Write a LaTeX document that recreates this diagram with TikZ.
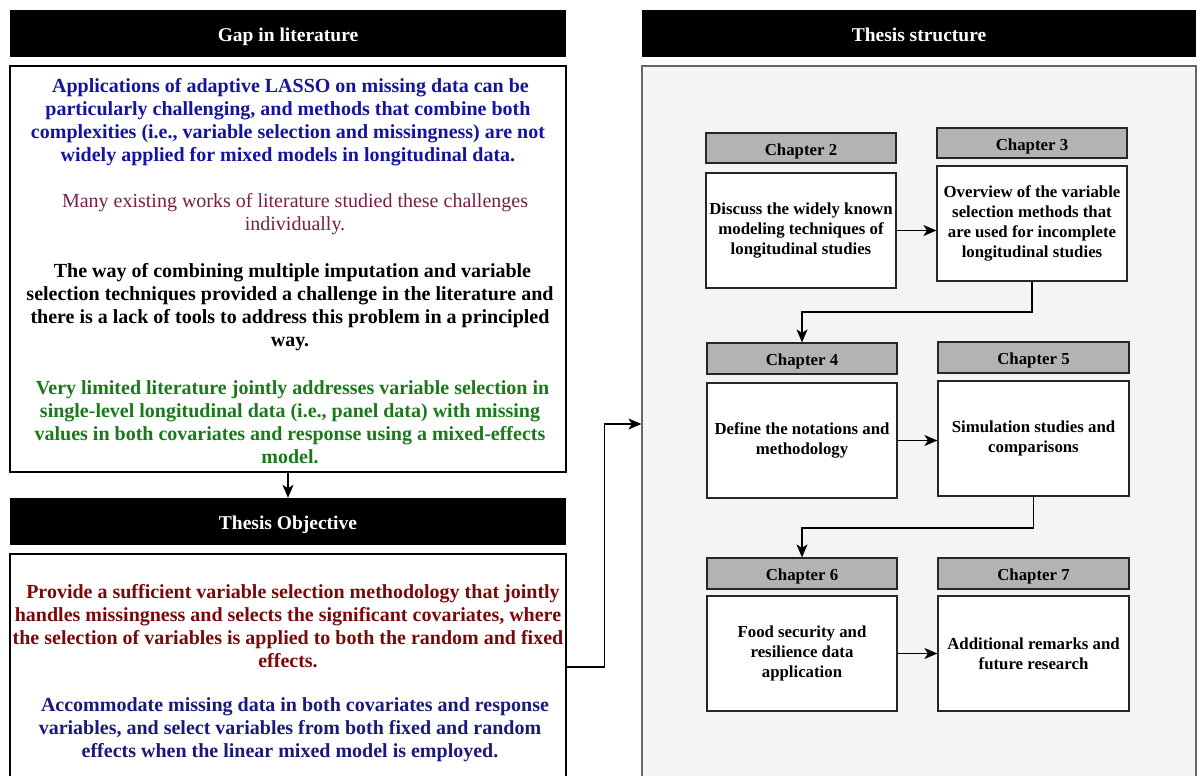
\documentclass[tikz,border=0pt]{standalone}
\usepackage{fontspec}
\setmainfont{Liberation Serif}
\usetikzlibrary{arrows.meta}
\definecolor{cblue}{HTML}{1414A0}
\definecolor{cmaroon}{HTML}{7A1F45}
\definecolor{cgreen}{HTML}{1A7A1A}
\definecolor{cred}{HTML}{7A0A0A}
\definecolor{cnavy}{HTML}{1A1A7A}
\definecolor{panel}{HTML}{F4F4F4}
\definecolor{chead}{HTML}{B3B3B3}
\tikzset{
  x=1pt,y=-1pt,
  titlebar/.style={fill=black,draw=none,minimum width=556pt,minimum height=47pt,inner sep=0pt,
    text height=20pt,text depth=4pt,
    text=white,font=\fontsize{19.5}{22}\selectfont\bfseries},
  bigbox/.style={draw=black,line width=1.3pt,fill=white,minimum width=556pt,inner sep=0pt},
  para/.style={align=center,inner sep=0pt,font=\fontsize{20}{23}\selectfont\bfseries},
  chhead/.style={draw=black!85,line width=1.2pt,fill=chead,minimum width=190pt,minimum height=30pt,inner sep=0pt,
    text height=17pt,text depth=3pt,
    font=\fontsize{16.8}{18}\selectfont\bfseries},
  chbody/.style={draw=black!85,line width=1.2pt,fill=white,minimum width=190pt,minimum height=115pt,inner sep=0pt,
    align=center,font=\fontsize{16.8}{20}\selectfont\bfseries},
  arr/.style={draw=black,line width=1.3pt,-{Stealth[length=13pt,width=11pt,inset=3.5pt]}},
}
\begin{document}
\begin{tikzpicture}
\useasboundingbox (0,0) rectangle (1202,776);
% left column
\node[titlebar] (gaph) at (288,33.5) {Gap in literature};
\node[bigbox,minimum height=406pt] (gapb) at (288,269) {};
\node[para,text=cblue] (p1) at (288,122.5) {\ Applications of adaptive LASSO on missing data can be\\particularly challenging, and methods that combine both\\complexities (i.e., variable selection and missingness) are not\\widely applied for mixed models in longitudinal data.};
\node[para,text=cmaroon,font=\fontsize{20}{23}\selectfont] (p2) at (295,214.5) {Many existing works of literature studied these challenges\\individually.};
\node[para,text=black] (p3) at (290,307) {\ The way of combining multiple imputation and variable\\selection techniques provided a challenge in the literature and\\there is a lack of tools to address this problem in a principled\\way.};
\node[para,text=cgreen] (p4) at (290,422) {\ Very limited literature jointly addresses variable selection in\\single-level longitudinal data (i.e., panel data) with missing\\values in both covariates and response using a mixed-effects\\model.};
\node[titlebar] (objh) at (288,521.5) {Thesis Objective};
\node[bigbox,minimum height=226pt] (objb) at (288,667) {};
\node[para,text=cred] (p5) at (288,626) {\ \ Provide a sufficient variable selection methodology that jointly\\handles missingness and selects the significant covariates, where\\the selection of variables is applied to both the random and fixed\\effects.};
\node[para,text=cnavy] (p6) at (290,729.5) {\ \ Accommodate missing data in both covariates and response\\variables, and select variables from both fixed and random\\effects when the linear mixed model is employed.};
\draw[arr] (gapb.south) -- (objh.north);
% right column
\node[titlebar,minimum width=554pt] (strh) at (919,33.5) {Thesis structure};
\node[draw=black!60,line width=1.2pt,fill=panel,minimum width=554pt,minimum height=716pt,inner sep=0pt] (strb) at (919,424) {};
\draw[arr] (objb.east) -- ++(38,0) |- (strb.west);
\node[chhead] (c2h) at (801,148) {Chapter 2};
\node[chbody] (c2b) at (801,230.5) {Discuss the widely known\\modeling techniques of\\longitudinal studies};
\node[chhead] (c3h) at (1032,143) {Chapter 3};
\node[chbody] (c3b) at (1032,223.5) {Overview of the variable\\selection methods that\\are used for incomplete\\longitudinal studies};
\node[chhead,minimum height=31pt] (c4h) at (802,358.5) {Chapter 4};
\node[chbody] (c4b) at (802,440.5) {Define the notations and\\methodology};
\node[chhead,minimum height=31pt,minimum width=191pt] (c5h) at (1033.5,357.5) {Chapter 5};
\node[chbody,minimum width=191pt] (c5b) at (1033.5,438.5) {Simulation studies and\\comparisons};
\node[chhead,minimum height=31pt] (c6h) at (802,573.5) {Chapter 6};
\node[chbody] (c6b) at (802,653.5) {Food security and\\resilience data\\application};
\node[chhead,minimum height=31pt,minimum width=191pt] (c7h) at (1033.5,573.5) {Chapter 7};
\node[chbody,minimum width=191pt] (c7b) at (1033.5,653.5) {Additional remarks and\\future research};
\coordinate (k1) at (0,312);
\coordinate (k2) at (0,528);
\draw[arr] (c2b.east) -- (c2b.east -| c3b.west);
\draw[arr] (c4b.east) -- (c4b.east -| c5b.west);
\draw[arr] (c6b.east) -- (c6b.east -| c7b.west);
\draw[arr] (c3b.south) -- (c3b.south |- k1) -| (c4h.north);
\draw[arr] (c5b.south) -- (c5b.south |- k2) -| (c6h.north);
\end{tikzpicture}
\end{document}
